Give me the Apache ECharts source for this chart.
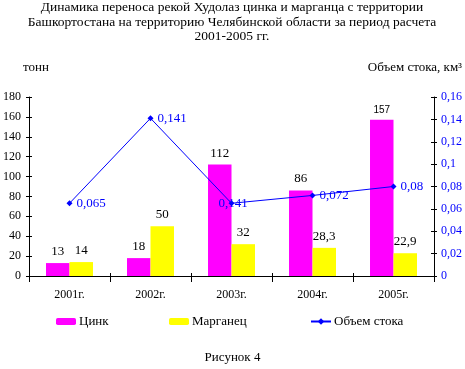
<!DOCTYPE html>
<html><head><meta charset="utf-8">
<script src="https://cdn.jsdelivr.net/npm/echarts@6/dist/echarts.min.js"></script>
<style>html,body{margin:0;padding:0;background:#fff}#c{width:465px;height:369px}</style>
</head><body><div id="c"></div>
<script>
var categories = ['2001г.', '2002г.', '2003г.', '2004г.', '2005г.'];
var zinc = [13, 18, 112, 86, 157];
var manganese = [14, 50, 32, 28.3, 22.9];
var flow = [0.065, 0.141, 0.065, 0.072, 0.08];
var flowLabels = ['0,065', '0,141', '0,141', '0,072', '0,08'];
var leftTicks = [0, 180, 20];
var rightTicks = [0, 0.16, 0.02];

var serif = "'Liberation Serif','Times New Roman',serif";
function comma(v){ return String(Math.round(v*1000)/1000).replace('.', ','); }

var chart = echarts.init(document.getElementById('c'), null, {renderer:'canvas'});
var baseY = {type:'value', axisLine:{show:true, lineStyle:{color:'#000', width:1}}, splitLine:{show:false}};
var tickOnly = {axisLine:{show:false}, axisLabel:{show:false}, splitLine:{show:false}, axisTick:{show:true, inside:true, length:3, lineStyle:{color:'#000'}}};

chart.setOption({
  backgroundColor:'#fff',
  animation:false,
  graphic:[
    {type:'text', x:232, y:0, style:{text:'Динамика переноса рекой Худолаз цинка и марганца с территории\nБашкортостана на территорию Челябинской области за период расчета\n2001-2005 гг.',
      align:'center', font:'13.5px '+serif, fill:'#000', lineHeight:14.7}},
    {type:'text', left:23, top:61, style:{text:'тонн', font:'13px '+serif, fill:'#000'}},
    {type:'text', right:3, top:61, style:{text:'Объем стока, км³', font:'13px '+serif, fill:'#000'}},
    {type:'text', left:'center', top:351, style:{text:'Рисунок 4', font:'13px '+serif, fill:'#000'}}
  ],
  legend:[
    {data:['Цинк'], left:56, top:315, padding:0, itemWidth:20, itemHeight:7, itemGap:3, textStyle:{fontFamily:serif, fontSize:13, color:'#000', padding:[0,0,0,-2]}},
    {data:['Марганец'], left:169, top:315, padding:0, itemWidth:20, itemHeight:7, textStyle:{fontFamily:serif, fontSize:13, color:'#000', padding:[0,0,0,-2]}},
    {data:['Объем стока'], left:310, top:315, padding:0, itemWidth:20, itemHeight:8, textStyle:{fontFamily:serif, fontSize:13, color:'#000', padding:[0,0,0,-2]}}
  ],
  grid:{left:28, right:31, top:97, bottom:93, containLabel:false},
  xAxis:[
    {type:'category', data:categories, position:'bottom',
      axisLine:{lineStyle:{color:'#000'}}, axisTick:{show:true, length:6, lineStyle:{color:'#000'}},
      axisLabel:{fontFamily:serif, fontSize:12, color:'#000', margin:13}},
    Object.assign({type:'category', data:categories, position:'bottom'}, tickOnly)
  ],
  yAxis:[
    Object.assign({}, baseY, {position:'left', min:leftTicks[0], max:leftTicks[1], interval:leftTicks[2],
      axisTick:{show:true, length:3, lineStyle:{color:'#000'}},
      axisLabel:{fontFamily:serif, fontSize:12, color:'#000', margin:8}}),
    Object.assign({}, baseY, {position:'right', min:rightTicks[0], max:rightTicks[1], interval:rightTicks[2],
      axisTick:{show:true, length:3, lineStyle:{color:'#000'}},
      axisLabel:{fontFamily:serif, fontSize:12, color:'#0000ff', margin:7, formatter:function(v){return comma(v);}}}),
    Object.assign({type:'value', position:'left', min:leftTicks[0], max:leftTicks[1], interval:leftTicks[2]}, tickOnly),
    Object.assign({type:'value', position:'right', min:rightTicks[0], max:rightTicks[1], interval:rightTicks[2]}, tickOnly)
  ],
  series:[
    {name:'Цинк', type:'bar', yAxisIndex:0, barGap:'0%', barCategoryGap:'42%',
      itemStyle:{color:'#ff00ff'},
      data:zinc.map(function(v,i){
        var d = {value:v};
        if (i===4) d.label = {fontFamily:"'Liberation Sans',Arial,sans-serif", fontSize:10};
        return d;
      }),
      label:{show:true, position:'top', distance:5, fontFamily:serif, fontSize:13, color:'#000', formatter:function(p){return comma(p.value);}}},
    {name:'Марганец', type:'bar', yAxisIndex:0, barGap:'0%', barCategoryGap:'42%',
      itemStyle:{color:'#ffff00'}, data:manganese,
      label:{show:true, position:'top', distance:5, fontFamily:serif, fontSize:13, color:'#000', formatter:function(p){return comma(p.value);}}},
    {name:'Объем стока', type:'line', yAxisIndex:1, z:5,
      symbol:'diamond', symbolSize:6,
      lineStyle:{color:'#0000ff', width:1}, itemStyle:{color:'#0000ff'},
      data:flow.map(function(v,i){
        var d = {value:v};
        if (i===2) d.label = {offset:[-20,0]};
        return d;
      }),
      label:{show:true, position:'right', distance:4, fontFamily:serif, fontSize:13, color:'#0000ff',
        formatter:function(p){return flowLabels[p.dataIndex];}}}
  ]
});
</script></body></html>
